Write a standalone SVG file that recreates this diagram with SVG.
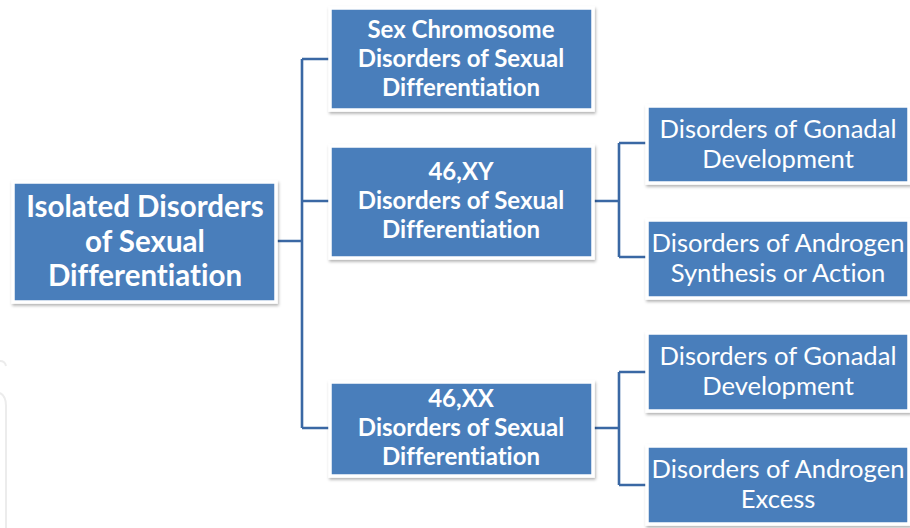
<svg xmlns="http://www.w3.org/2000/svg" width="910" height="528" viewBox="0 0 910 528">
  <style>
    .box { fill: #4a7ebb; stroke: #ffffff; stroke-width: 3.5; filter: url(#sh); }
    .t { fill: #ffffff; font-family: Lato, "Open Sans", "Liberation Sans", sans-serif; text-anchor: middle; font-variant-ligatures: none; font-feature-settings: "liga" 0, "clig" 0, "dlig" 0; }
    .b28 { font-size: 29.5px; font-weight: bold; }
    .b22 { font-size: 24px; font-weight: bold; }
    .r24 { font-size: 25.6px; }
    .conn { fill: none; stroke: #3a68a4; stroke-width: 2.6; }
    .wm { fill: none; stroke: #ececec; stroke-width: 2; }
  </style>
  <defs>
    <filter id="sh" x="-10%" y="-10%" width="120%" height="130%">
      <feDropShadow dx="1" dy="2" stdDeviation="1.6" flood-color="#000000" flood-opacity="0.3"/>
    </filter>
  </defs>
  <rect width="910" height="528" fill="#ffffff"/>
  <g id="watermark">
    <path class="wm" d="M0,361 Q5,361 6,366"/>
    <path class="wm" d="M0,393 Q6,396 6,406 L6,528"/>
  </g>
  <g id="connectors">
    <path class="conn" d="M277,241 H302 M302,59 V428 M302,59 H330 M302,201 H330 M302,428 H330"/>
    <path class="conn" d="M594,201 H619 M619,143 V257 M619,143 H648 M619,257 H648"/>
    <path class="conn" d="M594,428 H619 M619,372 V485 M619,372 H648 M619,485 H648"/>
  </g>
  <g id="root">
    <rect class="box" x="13" y="182" width="263" height="120"/>
    <text class="t b28" x="145" y="217">Isolated Disorders</text>
    <text class="t b28" x="145" y="252">of Sexual</text>
    <text class="t b28" x="145" y="286">Differentiation</text>
  </g>
  <g id="sexchrom">
    <rect class="box" x="330" y="8" width="263" height="102"/>
    <text class="t b22" x="461" y="38">Sex Chromosome</text>
    <text class="t b22" x="461" y="67">Disorders of Sexual</text>
    <text class="t b22" x="461" y="96">Differentiation</text>
  </g>
  <g id="xy">
    <rect class="box" x="330" y="146" width="263" height="112"/>
    <text class="t b22" x="461" y="180">46,XY</text>
    <text class="t b22" x="461" y="209">Disorders of Sexual</text>
    <text class="t b22" x="461" y="238">Differentiation</text>
  </g>
  <g id="xx">
    <rect class="box" x="330" y="382" width="263" height="94"/>
    <text class="t b22" x="461" y="407">46,XX</text>
    <text class="t b22" x="461" y="436">Disorders of Sexual</text>
    <text class="t b22" x="461" y="465">Differentiation</text>
  </g>
  <g id="xy-gonadal">
    <rect class="box" x="647" y="106" width="262" height="77"/>
    <text class="t r24" x="778" y="138">Disorders of Gonadal</text>
    <text class="t r24" x="778" y="168">Development</text>
  </g>
  <g id="xy-androgen">
    <rect class="box" x="647" y="220" width="262" height="78"/>
    <text class="t r24" x="778" y="252">Disorders of Androgen</text>
    <text class="t r24" x="778" y="282">Synthesis or Action</text>
  </g>
  <g id="xx-gonadal">
    <rect class="box" x="647" y="333" width="262" height="78"/>
    <text class="t r24" x="778" y="365">Disorders of Gonadal</text>
    <text class="t r24" x="778" y="395">Development</text>
  </g>
  <g id="xx-androgen">
    <rect class="box" x="647" y="446" width="262" height="78"/>
    <text class="t r24" x="778" y="478">Disorders of Androgen</text>
    <text class="t r24" x="778" y="508">Excess</text>
  </g>
</svg>
